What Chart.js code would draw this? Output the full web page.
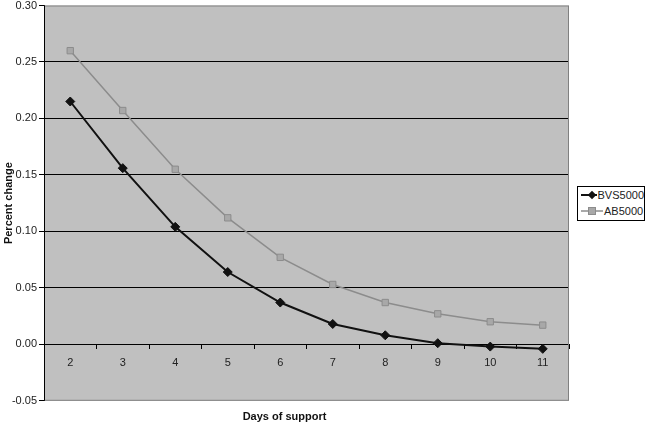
<!DOCTYPE html>
<html>
<head>
<meta charset="utf-8">
<script src="https://cdn.jsdelivr.net/npm/chart.js@4.4.1/dist/chart.umd.min.js"></script>
<style>
    body { margin: 0; background: #fff; font-family: "Liberation Sans", Arial, sans-serif; }
    #wrap { position: relative; width: 647px; height: 427px; }
    #legend {
        position: absolute; left: 577px; top: 186px; width: 66px; height: 33px;
        border: 1px solid #000; background: #fff; font-size: 11px; color: #222;
    }
    .row { display: flex; align-items: center; height: 16px; padding-left: 3px; }
    .row svg { margin-right: 1px; }
</style>
</head>
<body>
<div id="wrap">
    <canvas id="chart" width="647" height="427"></canvas>
    <div id="legend"></div>
</div>
<script>
const days = ['2', '3', '4', '5', '6', '7', '8', '9', '10', '11'];
const bvs5000 = [0.215, 0.156, 0.104, 0.064, 0.037, 0.018, 0.008, 0.001, -0.002, -0.004];
const ab5000 = [0.260, 0.207, 0.155, 0.112, 0.077, 0.053, 0.037, 0.027, 0.020, 0.017];
const yTicks = [-0.05, 0, 0.05, 0.10, 0.15, 0.20, 0.25, 0.30];

const plotBg = {
    id: 'plotBg',
    beforeDraw(chart) {
        const { ctx, chartArea: a } = chart;
        ctx.save();
        ctx.fillStyle = '#c0c0c0';
        ctx.fillRect(a.left, a.top, a.right - a.left, a.bottom - a.top);
        ctx.restore();
    },
    beforeDatasetsDraw(chart) {
        const { ctx, chartArea: a } = chart;
        ctx.save();
        ctx.strokeStyle = '#808080';
        ctx.lineWidth = 1;
        ctx.strokeRect(a.left + 0.5, a.top + 0.5, a.right - a.left - 1, a.bottom - a.top - 1);
        // left axis line
        ctx.strokeStyle = '#000';
        ctx.beginPath();
        ctx.moveTo(a.left + 0.5, a.top);
        ctx.lineTo(a.left + 0.5, a.bottom);
        ctx.stroke();
        ctx.restore();
    }
};

new Chart(document.getElementById('chart').getContext('2d'), {
    type: 'line',
    data: {
        labels: days,
        datasets: [{
            label: 'BVS5000',
            data: bvs5000,
            borderColor: '#111',
            backgroundColor: '#111',
            borderWidth: 2,
            pointStyle: 'rectRot',
            pointRadius: 4.5,
            pointBorderWidth: 1
        }, {
            label: 'AB5000',
            data: ab5000,
            borderColor: '#8c8c8c',
            backgroundColor: '#a8a8a8',
            borderWidth: 1.5,
            pointStyle: 'rect',
            pointRadius: 4.5,
            pointBorderColor: '#8c8c8c',
            pointBorderWidth: 1
        }]
    },
    options: {
        responsive: false,
        animation: false,
        layout: { padding: { left: 0, right: 78, top: 4, bottom: 0 } },
        plugins: {
            legend: { display: false },
            tooltip: { enabled: false },
            title: {
                display: true,
                position: 'bottom',
                text: 'Days of support',
                color: '#111',
                font: { family: 'Liberation Sans', size: 11, weight: 'bold' },
                padding: { top: 10, bottom: 3 }
            }
        },
        scales: {
            x: {
                type: 'category',
                position: { y: 0 },
                offset: true,
                grid: { offset: true, drawOnChartArea: false, tickLength: 4, color: '#000' },
                border: { color: '#000', width: 1 },
                ticks: {
                    color: '#222',
                    padding: 8,
                    maxRotation: 0,
                    font: { family: 'Liberation Sans', size: 11 }
                }
            },
            y: {
                min: -0.05,
                max: 0.30,
                afterBuildTicks(scale) {
                    scale.ticks = yTicks.map(v => ({ value: v }));
                },
                afterFit(scale) {
                    scale.width = 44;
                    scale.paddingTop = 0;
                    scale.paddingBottom = 0;
                },
                grid: {
                    color: ctx => (ctx.tick && (ctx.tick.value === -0.05 || ctx.tick.value === 0.30)) ? 'rgba(0,0,0,0)' : '#000',
                    tickColor: '#000',
                    tickLength: 5,
                    lineWidth: 1
                },
                border: { color: '#000' },
                ticks: {
                    color: '#222',
                    padding: 2,
                    font: { family: 'Liberation Sans', size: 11 },
                    callback: v => v.toFixed(2)
                },
                title: {
                    display: true,
                    text: 'Percent change',
                    color: '#111',
                    padding: { top: 2, bottom: 0 },
                    font: { family: 'Liberation Sans', size: 11, weight: 'bold' }
                }
            }
        }
    },
    plugins: [plotBg]
});

// legend box
const legend = document.getElementById('legend');
[
    { name: 'BVS5000', line: '#111', marker: '<rect x="8" y="4" width="6" height="6" fill="#111" transform="rotate(45 11 7)"/>', w: 2 },
    { name: 'AB5000', line: '#8c8c8c', marker: '<rect x="7.5" y="3.5" width="7" height="7" fill="#a8a8a8" stroke="#8c8c8c"/>', w: 1.5 }
].forEach(s => {
    const row = document.createElement('div');
    row.className = 'row';
    row.innerHTML = '<svg width="22" height="14"><line x1="0" y1="7" x2="22" y2="7" stroke="' + s.line +
        '" stroke-width="' + s.w + '"/>' + s.marker + '</svg><span>' + s.name + '</span>';
    legend.appendChild(row);
});
</script>
</body>
</html>
